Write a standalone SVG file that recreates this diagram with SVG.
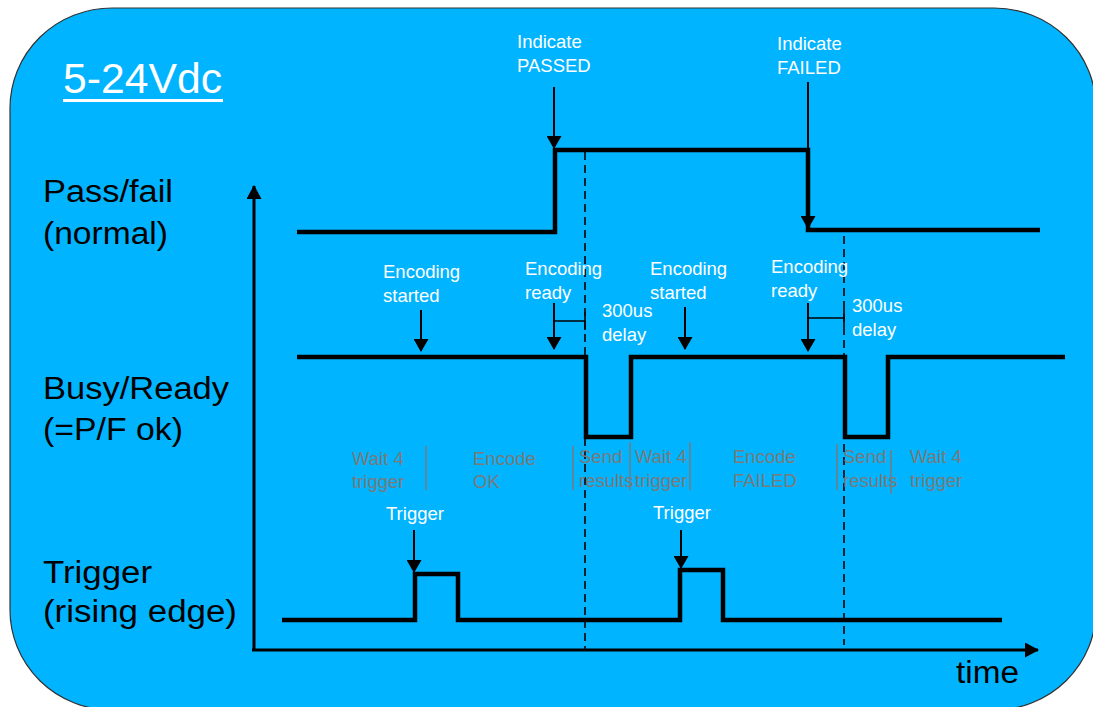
<svg xmlns="http://www.w3.org/2000/svg" width="1093" height="707" viewBox="0 0 1093 707">
<style>
.lbl{font-family:"Liberation Sans",Arial,sans-serif;font-size:31px;fill:#000}
.wt{font-family:"Liberation Sans",Arial,sans-serif;font-size:18.5px;fill:#fff}
.gr{font-family:"Liberation Sans",Arial,sans-serif;font-size:18.5px;fill:#7a7a7a}
.wave{fill:none;stroke:#000;stroke-width:4.5;stroke-linejoin:miter}
.ptr{stroke:#000;stroke-width:2;fill:none;marker-end:url(#ah)}
.dash{stroke:#000;stroke-width:1.6;stroke-dasharray:8,5;fill:none}
.sep{stroke:#7a7a7a;stroke-width:1.5}
.axis{stroke:#000;stroke-width:3;fill:none;marker-end:url(#axh)}
</style>
<defs>
<marker id="ah" viewBox="0 0 13 15" refX="12" refY="7.5" markerWidth="13" markerHeight="15" orient="auto" markerUnits="userSpaceOnUse"><path d="M0,0 L13,7.5 L0,15 z" fill="#000"/></marker>
<marker id="axh" viewBox="0 0 14 15" refX="13" refY="7.5" markerWidth="14" markerHeight="15" orient="auto" markerUnits="userSpaceOnUse"><path d="M0,0 L14,7.5 L0,15 z" fill="#000"/></marker>
</defs>
<rect id="background" x="10" y="8" width="1086" height="702" rx="102" ry="100" fill="#00b4ff" stroke="#333" stroke-width="1.2"/>
<g id="title"><text x="63" y="93" font-family="Liberation Sans,Arial,sans-serif" font-size="42" fill="#fff" textLength="159" lengthAdjust="spacingAndGlyphs">5-24Vdc</text><rect x="63" y="99" width="160" height="3" fill="#fff"/></g>
<g id="signal-labels">
<text class="lbl" x="43" y="202" textLength="130" lengthAdjust="spacingAndGlyphs">Pass/fail</text>
<text class="lbl" x="43" y="244" textLength="125" lengthAdjust="spacingAndGlyphs">(normal)</text>
<text class="lbl" x="43" y="399" textLength="186" lengthAdjust="spacingAndGlyphs">Busy/Ready</text>
<text class="lbl" x="43" y="440" textLength="140" lengthAdjust="spacingAndGlyphs">(=P/F ok)</text>
<text class="lbl" x="43" y="583" textLength="109" lengthAdjust="spacingAndGlyphs">Trigger</text>
<text class="lbl" x="43" y="622" textLength="194" lengthAdjust="spacingAndGlyphs">(rising edge)</text>
<text class="lbl" x="956" y="683" textLength="63" lengthAdjust="spacingAndGlyphs">time</text>
</g>
<g id="connectors">
<path class="axis" d="M254,650 V186"/>
<path class="axis" d="M252,650 H1038"/>
<path class="dash" d="M585,152 V650"/>
<path class="dash" d="M844,236 V645"/>
<path class="wave" d="M297,232 H555 V150 H808 V230 H1040"/>
<path class="wave" d="M297,357 H586 V437 H631 V357 H845 V437 H888 V357 H1065"/>
<path class="wave" d="M282,620 H415 V574 H458 V620 H680 V570 H723 V620 H1002"/>
<path class="ptr" d="M554,87 V148"/>
<path class="ptr" d="M808,82 V228"/>
<path class="ptr" d="M421,310 V351"/>
<path class="ptr" d="M554,303 V349"/>
<path class="ptr" d="M685,307 V349"/>
<path class="ptr" d="M808,303 V351"/>
<path class="ptr" d="M414,530 V572"/>
<path class="ptr" d="M681,530 V568"/>
<path d="M554,321 H585 M585,312 V330 M808,318 H844 M844,309 V327" stroke="#000" stroke-width="1.6" fill="none"/>
<path class="sep" d="M426,446 V490 M573,446 V490 M630,442 V490 M690,442 V490 M837,444 V490 M891,450 V494"/>
</g>
<g id="annotations">
<text class="wt" x="517" y="48">Indicate</text><text class="wt" x="517" y="72">PASSED</text>
<text class="wt" x="777" y="50">Indicate</text><text class="wt" x="777" y="74">FAILED</text>
<text class="wt" x="383" y="278">Encoding</text><text class="wt" x="383" y="302">started</text>
<text class="wt" x="525" y="275">Encoding</text><text class="wt" x="525" y="299">ready</text>
<text class="wt" x="602" y="317">300us</text><text class="wt" x="602" y="341">delay</text>
<text class="wt" x="650" y="275">Encoding</text><text class="wt" x="650" y="299">started</text>
<text class="wt" x="771" y="273">Encoding</text><text class="wt" x="771" y="297">ready</text>
<text class="wt" x="852" y="312">300us</text><text class="wt" x="852" y="336">delay</text>
<text class="wt" x="386" y="520">Trigger</text>
<text class="wt" x="653" y="519">Trigger</text>
</g>
<g id="states">
<text class="gr" x="352" y="465">Wait 4</text><text class="gr" x="352" y="488">trigger</text>
<text class="gr" x="473" y="465">Encode</text><text class="gr" x="473" y="488">OK</text>
<text class="gr" x="579" y="463">Send</text><text class="gr" x="579" y="487">results</text>
<text class="gr" x="635" y="463">Wait 4</text><text class="gr" x="635" y="487">trigger</text>
<text class="gr" x="733" y="463">Encode</text><text class="gr" x="733" y="487">FAILED</text>
<text class="gr" x="843" y="463">Send</text><text class="gr" x="843" y="487">results</text>
<text class="gr" x="910" y="463">Wait 4</text><text class="gr" x="910" y="487">trigger</text>
</g>
</svg>
